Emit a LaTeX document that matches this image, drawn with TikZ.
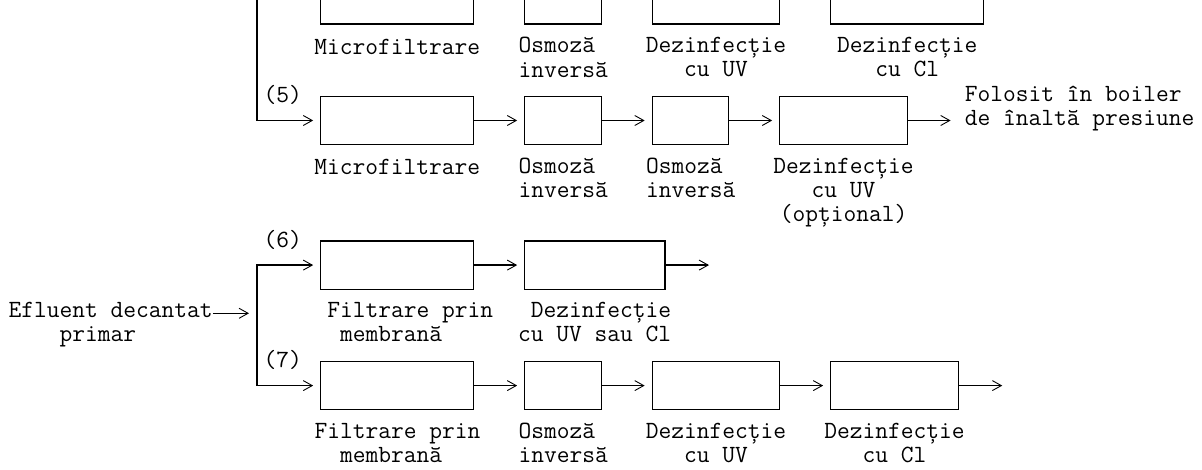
\documentclass[tikz,border=0pt]{standalone}
\usetikzlibrary{arrows.meta}

% monospaced grid: one character cell is 12.75pt wide, one text row 24.1pt high
\newlength\chw
\setlength\chw{12.75pt}
\newlength\probew
\settowidth\probew{\fontsize{24}{24}\ttfamily\selectfont M}
\pgfmathsetmacro\monosize{24*12.75/\probew}
\newcommand\mono{\fontsize{\monosize}{24.1}\ttfamily\selectfont}
\newcommand\colx[1]{257+12.75*(#1)}
\newcommand\rowy[1]{24.1*(#1+1)}

\begin{document}
\begin{tikzpicture}[x=1pt, y=-1pt,
  stage/.style={draw, line width=1.2pt, inner sep=0pt, minimum height=48.2pt, minimum width=#1*12.75pt},
  lbl/.style={font=\mono, inner sep=0pt, anchor=north, yshift=10.9pt, execute at begin node=\strut},
  conn/.style={line width=1.2pt, shorten >=7pt, -{Straight Barb[length=9pt, width=10pt, line width=0.9pt]}}]
  \useasboundingbox (0,0) rectangle (1202,470);
  \clip (0,0) rectangle (1202,470);

  % line (4), only its lower part is in view
  \node[stage=12] (bt1) at ({\colx{11}},{\rowy{-1}}) {};
  \node[stage=6]  (bt2) at ({\colx{24}},{\rowy{-1}}) {};
  \node[stage=10] (bt3) at ({\colx{36}},{\rowy{-1}}) {};
  \node[stage=12] (bt4) at ({\colx{51}},{\rowy{-1}}) {};
  \node[lbl] (lt1) at ({\colx{11}},{\rowy{1}}) {Microfiltrare};
  \node[lbl, anchor=north west, align=left] (lt2) at ({\colx{20.5}},{\rowy{1}}) {Osmoză\\inversă};
  \node[lbl, align=center] (lt3) at ({\colx{36}},{\rowy{1}}) {Dezinfecție\\cu UV};
  \node[lbl, align=center] (lt4) at ({\colx{51}},{\rowy{1}}) {Dezinfecție\\cu Cl};

  % line (5)
  \node[lbl, anchor=north west] (n5) at ({\colx{0.5}},{\rowy{3}}) {(5)};
  \node[stage=12] (b51) at ({\colx{11}},{\rowy{4}}) {};
  \node[stage=6]  (b52) at ({\colx{24}},{\rowy{4}}) {};
  \node[stage=6]  (b53) at ({\colx{34}},{\rowy{4}}) {};
  \node[stage=10] (b54) at ({\colx{46}},{\rowy{4}}) {};
  \node[lbl] (l51) at ({\colx{11}},{\rowy{6}}) {Microfiltrare};
  \node[lbl, anchor=north west, align=left] (l52) at ({\colx{20.5}},{\rowy{6}}) {Osmoză\\inversă};
  \node[lbl, anchor=north west, align=left] (l53) at ({\colx{30.5}},{\rowy{6}}) {Osmoză\\inversă};
  \node[lbl, align=center] (l54) at ({\colx{46}},{\rowy{6}}) {Dezinfecție\\cu UV\\(opțional)};
  \node[lbl, anchor=north west, align=left] (use) at ({\colx{55.5}},{\rowy{3}}) {Folosit în boiler\\de înaltă presiune};
  \coordinate (in5) at ({\colx{0}},-30);
  \draw[conn] (in5) |- (b51.west);
  \draw[conn] (b51.east) -- (b52.west);
  \draw[conn] (b52.east) -- (b53.west);
  \draw[conn] (b53.east) -- (b54.west);
  \draw[conn, shorten >=14pt] (b54.east) -- (use.west |- b54.east);

  % influent and split into (6) and (7)
  \node[lbl, anchor=north west, align=left] (efl) at ({\colx{-19.5}},{\rowy{12}}) {Efluent decantat\\\hspace*{4\chw}primar};
  \coordinate (split) at ({\colx{0}},{\rowy{12}});
  \draw[conn, shorten >=8pt] (efl.east |- split) -- (split);

  % line (6)
  \node[lbl, anchor=north west] (n6) at ({\colx{0.5}},{\rowy{9}}) {(6)};
  \node[stage=12] (b61) at ({\colx{11}},{\rowy{10}}) {};
  \node[stage=11] (b62) at ({\colx{26.5}},{\rowy{10}}) {};
  \node[lbl, anchor=north west, align=left] (l61) at ({\colx{5.5}},{\rowy{12}}) {Filtrare prin\\\hspace*{\chw}membrană};
  \node[lbl, anchor=north east, align=right] (l62) at ({\colx{32.5}},{\rowy{12}}) {Dezinfecție\\cu UV sau Cl};
  \coordinate (out6) at ({\colx{36}},{\rowy{10}});
  \draw[conn] (split) |- (b61.west);
  \draw[conn] (b61.east) -- (b62.west);
  \draw[conn] (b62.east) -- (out6);

  % line (7)
  \node[lbl, anchor=north west] (n7) at ({\colx{0.5}},{\rowy{14}}) {(7)};
  \node[stage=12] (b71) at ({\colx{11}},{\rowy{15}}) {};
  \node[stage=6]  (b72) at ({\colx{24}},{\rowy{15}}) {};
  \node[stage=10] (b73) at ({\colx{36}},{\rowy{15}}) {};
  \node[stage=10] (b74) at ({\colx{50}},{\rowy{15}}) {};
  \node[lbl, anchor=north west, align=left] (l71) at ({\colx{4.5}},{\rowy{17}}) {Filtrare prin\\\hspace*{2\chw}membrană};
  \node[lbl, anchor=north west, align=left] (l72) at ({\colx{20.5}},{\rowy{17}}) {Osmoză\\inversă};
  \node[lbl, align=center] (l73) at ({\colx{36}},{\rowy{17}}) {Dezinfecție\\cu UV};
  \node[lbl, align=center] (l74) at ({\colx{50}},{\rowy{17}}) {Dezinfecție\\cu Cl};
  \coordinate (out7) at ({\colx{59}},{\rowy{15}});
  \draw[conn] (split) |- (b71.west);
  \draw[conn] (b71.east) -- (b72.west);
  \draw[conn] (b72.east) -- (b73.west);
  \draw[conn] (b73.east) -- (b74.west);
  \draw[conn] (b74.east) -- (out7);
\end{tikzpicture}
\end{document}
